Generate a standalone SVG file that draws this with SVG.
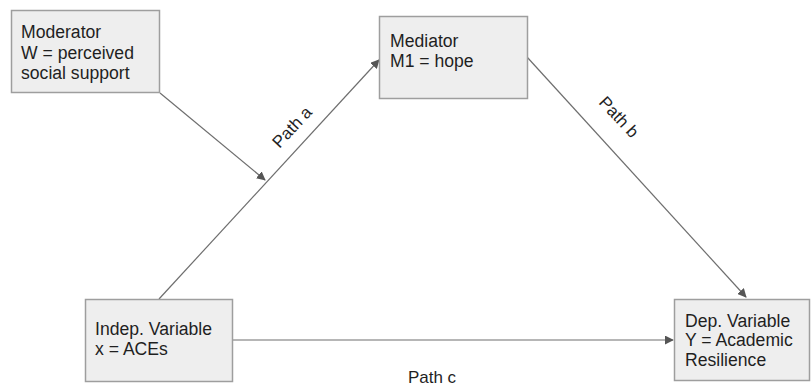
<svg xmlns="http://www.w3.org/2000/svg" width="811" height="387" viewBox="0 0 811 387">
<style>
.box{fill:#eeeeee;stroke:#9e9e9e;stroke-width:1.5}
.t{font-family:"Liberation Sans",Arial,sans-serif;font-size:17.6px;fill:#1f1f1f}
.lbl{font-family:"Liberation Sans",Arial,sans-serif;font-size:17px;fill:#1f1f1f}
.c{stroke:#6e6e6e;stroke-width:1.2;fill:none}
</style>
<defs>
<marker id="ah" viewBox="0 0 10 10" refX="9" refY="5" markerWidth="9" markerHeight="9" markerUnits="userSpaceOnUse" orient="auto">
<path d="M0,0 L10,5 L0,10 z" fill="#555"/>
</marker>
</defs>
<rect width="811" height="387" fill="#ffffff"/>
<g id="connectors">
<line class="c" x1="159" y1="299" x2="379" y2="60" marker-end="url(#ah)"/>
<line class="c" x1="160" y1="93" x2="265" y2="180" marker-end="url(#ah)"/>
<line class="c" x1="527" y1="57" x2="746" y2="297" marker-end="url(#ah)"/>
<line class="c" x1="232" y1="340" x2="673" y2="340" marker-end="url(#ah)"/>
<text class="lbl" transform="translate(293,128) rotate(-47)" text-anchor="middle" dominant-baseline="middle">Path a</text>
<text class="lbl" transform="translate(618,118) rotate(47)" text-anchor="middle" dominant-baseline="middle">Path b</text>
<text class="lbl" x="432" y="383" text-anchor="middle">Path c</text>
</g>
<g id="moderator">
<rect class="box" x="11.5" y="10.5" width="148" height="82"/>
<text class="t" x="21" y="38">Moderator</text>
<text class="t" x="21" y="59">W = perceived</text>
<text class="t" x="21" y="79">social support</text>
</g>
<g id="mediator">
<rect class="box" x="379.5" y="16.5" width="148" height="82"/>
<text class="t" x="390" y="47">Mediator</text>
<text class="t" x="390" y="67">M1 = hope</text>
</g>
<g id="independent">
<rect class="box" x="85.5" y="299.5" width="147" height="82"/>
<text class="t" x="95" y="335">Indep. Variable</text>
<text class="t" x="95" y="355">x = ACEs</text>
</g>
<g id="dependent">
<rect class="box" x="674.5" y="299.5" width="135" height="81"/>
<text class="t" x="685" y="327">Dep. Variable</text>
<text class="t" x="685" y="346">Y = Academic</text>
<text class="t" x="685" y="366">Resilience</text>
</g>
</svg>
